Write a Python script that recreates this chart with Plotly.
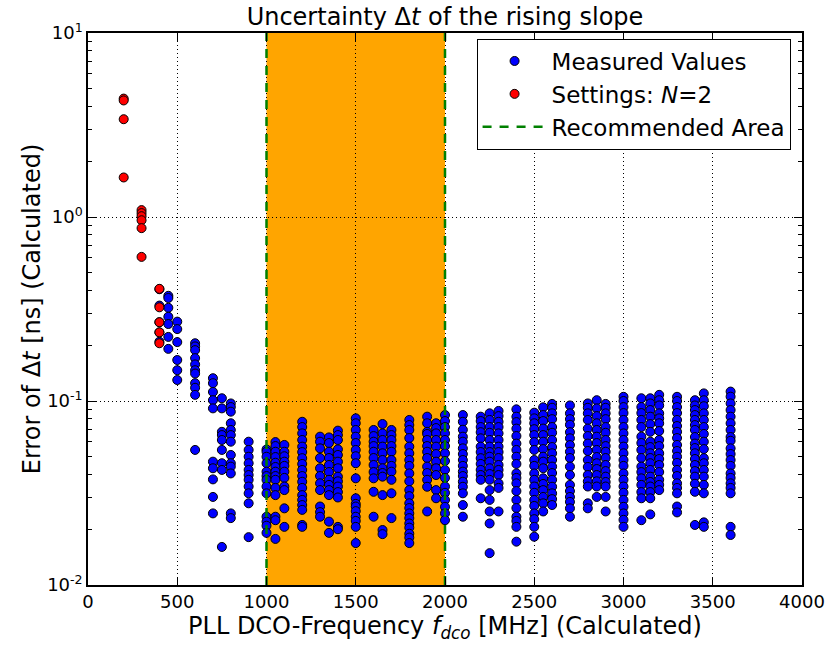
import plotly.graph_objects as go

# ---- data ----
measured_freq_mhz = [400, 450, 500, 600, 700, 750, 800, 900, 1000, 1050, 1100, 1200, 1300, 1350,
                     1400, 1500, 1600, 1650, 1700, 1800, 1900, 1950, 2000, 2100, 2200, 2250, 2300,
                     2400, 2500, 2550, 2600, 2700, 2800, 2850, 2900, 3000, 3100, 3150, 3200, 3300,
                     3400, 3450, 3600]
measured_err_ns = [
    [0.405, 0.33, 0.268, 0.236, 0.21],
    [0.373, 0.363, 0.321, 0.287, 0.262, 0.223, 0.192],
    [0.270, 0.246, 0.209, 0.167, 0.147, 0.130],
    [0.206, 0.198, 0.189, 0.171, 0.158, 0.147, 0.141, 0.125, 0.118, 0.108, 0.0542],
    [0.133, 0.125, 0.112, 0.101, 0.0912, 0.0468, 0.0431, 0.0375, 0.0301, 0.0245],
    [0.1035, 0.0912, 0.068, 0.0653, 0.0614, 0.0542, 0.0459, 0.0422, 0.0161],
    [0.097, 0.0927, 0.0875, 0.0757, 0.0696, 0.0653, 0.0601, 0.0509, 0.0459, 0.044, 0.0404, 0.0245, 0.0231],
    [0.0601, 0.0542, 0.0498, 0.0459, 0.0422, 0.0396, 0.0373, 0.0343, 0.0315, 0.0278, 0.0182],
    [0.0545, 0.053, 0.0498, 0.0459, 0.0413, 0.0391, 0.0373, 0.0343, 0.0315, 0.0235, 0.0221, 0.021, 0.0192],
    [0.0598, 0.0569, 0.053, 0.0496, 0.0462, 0.0438, 0.0413, 0.0391, 0.0373, 0.0337, 0.0308, 0.0235, 0.0225, 0.0178],
    [0.0577, 0.053, 0.0501, 0.0468, 0.0444, 0.0413, 0.0382, 0.0343, 0.0328, 0.0261, 0.0207],
    [0.0771, 0.0722, 0.0667, 0.0614, 0.0565, 0.0528, 0.0489, 0.0455, 0.0422, 0.0391, 0.0364, 0.0337,
     0.0308, 0.029, 0.0272, 0.0256, 0.0212, 0.0207],
    [0.064, 0.0601, 0.0553, 0.049, 0.0431, 0.0391, 0.0357, 0.0328, 0.0267, 0.0249, 0.0235],
    [0.0634, 0.0591, 0.053, 0.049, 0.0449, 0.0411, 0.0373, 0.035, 0.0328, 0.0308, 0.0221, 0.0192],
    [0.069, 0.0653, 0.0614, 0.0546, 0.0509, 0.0468, 0.0431, 0.0388, 0.0366, 0.0343, 0.032, 0.0299, 0.0207, 0.0201],
    [0.0805, 0.0757, 0.0696, 0.064, 0.0591, 0.0542, 0.0501, 0.0459, 0.038, 0.0296, 0.0276, 0.0267, 0.0252,
     0.0235, 0.0223, 0.0207, 0.0169],
    [0.0696, 0.0645, 0.0601, 0.0569, 0.053, 0.049, 0.0449, 0.0411, 0.038, 0.0321, 0.0235],
    [0.075, 0.0667, 0.0614, 0.0565, 0.052, 0.0478, 0.0431, 0.0406, 0.0388, 0.0308, 0.0199, 0.0189],
    [0.0696, 0.0653, 0.0614, 0.0569, 0.053, 0.0478, 0.0444, 0.0413, 0.0373, 0.0315, 0.0231],
    [0.0789, 0.074, 0.0696, 0.0629, 0.0565, 0.052, 0.0478, 0.0444, 0.0404, 0.0366, 0.0328, 0.0304, 0.0278,
     0.0262, 0.0245, 0.0231, 0.0216, 0.0205, 0.019, 0.0181, 0.0169],
    [0.0822, 0.0757, 0.068, 0.0662, 0.0614, 0.0569, 0.053, 0.049, 0.044, 0.0406, 0.0373, 0.0342, 0.0251],
    [0.0757, 0.0713, 0.0667, 0.0614, 0.0565, 0.0515, 0.0468, 0.0431, 0.0396, 0.0328, 0.0296],
    [0.0839, 0.0778, 0.0722, 0.0667, 0.0614, 0.0569, 0.052, 0.0472, 0.0422, 0.0382, 0.0343, 0.0317, 0.029,
     0.0266, 0.0245, 0.0225],
    [0.0839, 0.0771, 0.0698, 0.064, 0.0601, 0.0553, 0.0515, 0.0478, 0.0444, 0.0413, 0.0391, 0.0364, 0.0342,
     0.0315, 0.0272, 0.0235],
    [0.0822, 0.0778, 0.0722, 0.0677, 0.0627, 0.0565, 0.0528, 0.0489, 0.0455, 0.0422, 0.0396, 0.0373, 0.0296],
    [0.0857, 0.0789, 0.0722, 0.0672, 0.0614, 0.0565, 0.0528, 0.0498, 0.0468, 0.0431, 0.0401, 0.0373, 0.0328,
     0.029, 0.0251, 0.0216, 0.0149],
    [0.0883, 0.0828, 0.0771, 0.0722, 0.0667, 0.0614, 0.0565, 0.0528, 0.049, 0.0449, 0.0422, 0.0396, 0.0357,
     0.0337, 0.0251],
    [0.0901, 0.0822, 0.0768, 0.0708, 0.0645, 0.0587, 0.0542, 0.0498, 0.0455, 0.0404, 0.0382, 0.0357, 0.0324,
     0.029, 0.0262, 0.0235, 0.0223, 0.0207, 0.0172],
    [0.0864, 0.0805, 0.0757, 0.0703, 0.0653, 0.0598, 0.0542, 0.0478, 0.0444, 0.0404, 0.0373, 0.0343, 0.0317,
     0.029, 0.0269, 0.0245, 0.0228, 0.0207, 0.0183],
    [0.0924, 0.0839, 0.0778, 0.0708, 0.0653, 0.0601, 0.0548, 0.0498, 0.0468, 0.0431, 0.038, 0.0354, 0.0328,
     0.0301, 0.0278, 0.0251],
    [0.0964, 0.0919, 0.0857, 0.0797, 0.0722, 0.0672, 0.0614, 0.0562, 0.052, 0.0478, 0.044, 0.0406, 0.0373,
     0.0342, 0.0315, 0.0293, 0.0272],
    [0.0946, 0.0857, 0.0797, 0.0743, 0.0677, 0.0627, 0.0576, 0.053, 0.049, 0.044, 0.0396, 0.035, 0.0324,
     0.0301, 0.0283, 0.0261, 0.0235],
    [0.097, 0.0919, 0.0857, 0.0789, 0.0708, 0.0645, 0.0587, 0.0535, 0.0478, 0.0438, 0.0396, 0.0366, 0.0343,
     0.0278, 0.0261],
    [0.101, 0.0912, 0.0828, 0.0757, 0.0696, 0.064, 0.0591, 0.0542, 0.0496, 0.0459, 0.0427, 0.0396, 0.0366,
     0.0343, 0.0301],
    [0.0964, 0.0919, 0.0857, 0.0797, 0.0722, 0.0672, 0.0614, 0.0569, 0.053, 0.049, 0.0449, 0.0416, 0.0388,
     0.0363, 0.0343, 0.0301, 0.0251],
    [0.1054, 0.1, 0.0927, 0.086, 0.0789, 0.0722, 0.0667, 0.0614, 0.0565, 0.052, 0.0478, 0.0444, 0.0404,
     0.0373, 0.0343, 0.0317, 0.029, 0.0266, 0.0245, 0.0226, 0.0207],
    [0.1035, 0.0927, 0.086, 0.0789, 0.0722, 0.064, 0.0591, 0.0542, 0.049, 0.044, 0.0411, 0.038, 0.035,
     0.032, 0.0296, 0.0225],
    [0.1035, 0.097, 0.0893, 0.0822, 0.0749, 0.068, 0.0601, 0.0562, 0.052, 0.049, 0.0459, 0.0422, 0.0388,
     0.0363, 0.0343, 0.032, 0.0296, 0.0242],
    [0.108, 0.101, 0.0946, 0.0857, 0.0805, 0.0757, 0.0687, 0.0614, 0.0569, 0.052, 0.0484, 0.0449, 0.0411,
     0.0373, 0.035, 0.0328],
    [0.1054, 0.1, 0.0927, 0.086, 0.0789, 0.0731, 0.068, 0.0629, 0.0577, 0.0535, 0.0498, 0.0461, 0.0422,
     0.0391, 0.0357, 0.0337, 0.0315, 0.0267, 0.0248],
    [0.101, 0.0946, 0.0893, 0.0839, 0.0789, 0.074, 0.0696, 0.0637, 0.0587, 0.0555, 0.052, 0.0484, 0.0449,
     0.0416, 0.0388, 0.0355, 0.0321, 0.0212],
    [0.110, 0.101, 0.0937, 0.0857, 0.0789, 0.0722, 0.0662, 0.0601, 0.0548, 0.0489, 0.0459, 0.0422, 0.0388,
     0.035, 0.0315, 0.0219, 0.0207],
    [0.1125, 0.1056, 0.097, 0.0893, 0.0822, 0.0757, 0.0696, 0.0637, 0.0608, 0.0553, 0.0515, 0.0478, 0.0444,
     0.0404, 0.0382, 0.0357, 0.0337, 0.0315, 0.0207, 0.0187],
]

settings_freq_mhz = [200, 300, 400]
settings_err_ns = [
    [4.4, 4.3, 3.4, 1.64],
    [1.09, 1.05, 1.01, 0.96, 0.87, 0.607],
    [0.407, 0.323, 0.268, 0.236, 0.206],
]

recommended_range = [1000, 2000]
x_ticks = [0, 500, 1000, 1500, 2000, 2500, 3000, 3500, 4000]
y_ticks = [0.01, 0.1, 1, 10]
y_tick_text = ["10<sup>-2</sup>", "10<sup>-1</sup>", "10<sup>0</sup>", "10<sup>1</sup>"]
y_minor_ticks = [m * d for d in (0.01, 0.1, 1) for m in range(2, 10)]


def expand(freqs, errs):
    xs, ys = [], []
    for f, col in zip(freqs, errs):
        for v in col:
            xs.append(f)
            ys.append(v)
    return xs, ys


mx, my = expand(measured_freq_mhz, measured_err_ns)
sx, sy = expand(settings_freq_mhz, settings_err_ns)

FONT = "DejaVu Sans"

fig = go.Figure()
fig.add_trace(go.Scatter(
    x=mx, y=my, mode="markers", name="Measured Values", legendgroup="meas",
    marker=dict(color="#0000ff", size=9, line=dict(color="black", width=1)),
))
fig.add_trace(go.Scatter(
    x=sx, y=sy, mode="markers", name="Settings: <i>N</i>=2", legendgroup="set",
    marker=dict(color="#ff0000", size=9, line=dict(color="black", width=1)),
))
for i, xv in enumerate(recommended_range):
    fig.add_trace(go.Scatter(
        x=[xv, xv], y=[0.01, 10], mode="lines", name="Recommended Area",
        legendgroup="rec", showlegend=(i == 0),
        line=dict(color="#008000", width=2.5, dash="9px,8px"),
    ))

fig.add_shape(type="rect", xref="x", yref="paper",
              x0=recommended_range[0], x1=recommended_range[1], y0=0, y1=1,
              fillcolor="#ffa500", line=dict(width=0), layer="below")

axis_common = dict(
    showline=True, linecolor="black", linewidth=1.5, mirror="allticks",
    ticks="inside", ticklen=8, tickwidth=1, tickcolor="black",
    showgrid=True, gridcolor="black", griddash="1px,3px", gridwidth=1,
    zeroline=False, automargin=False,
    tickfont=dict(family=FONT, size=18, color="black"),
)

fig.update_xaxes(
    range=[0, 4000], tickvals=x_ticks,
    title=dict(text="PLL DCO-Frequency <i>f</i><sub><i>dco</i></sub> [MHz] (Calculated)",
               font=dict(family=FONT, size=24, color="black"), standoff=4),
    **axis_common,
)
fig.update_yaxes(
    type="log", range=[-2, 1], tickvals=y_ticks, ticktext=y_tick_text,
    title=dict(text="Error of Δ<i>t</i> [ns] (Calculated)",
               font=dict(family=FONT, size=24, color="black"), standoff=0),
    minor=dict(ticks="inside", ticklen=4, tickcolor="black", tickwidth=1,
               tickvals=y_minor_ticks, showgrid=False),
    **axis_common,
)

fig.update_layout(
    width=831, height=648,
    margin=dict(l=88, r=29, t=33, b=63, autoexpand=False),
    paper_bgcolor="white", plot_bgcolor="white",
    font=dict(family=FONT, color="black"),
    title=dict(text="Uncertainty Δ<i>t</i> of the rising slope",
               font=dict(family=FONT, size=24, color="black"),
               x=0.5, xref="paper", xanchor="center",
               y=0.988, yref="container", yanchor="top", pad=dict(t=0, b=0)),
    legend=dict(x=0.984, y=0.99, xanchor="right", yanchor="top",
                bgcolor="white", bordercolor="black", borderwidth=1,
                font=dict(family=FONT, size=23, color="black"),
                itemwidth=64, traceorder="grouped", tracegroupgap=0),
    showlegend=True,
)

fig.write_html(
    "out.html",
    config={"displayModeBar": False},
    post_script="document.body.style.margin='0';document.body.style.overflow='hidden';",
)
